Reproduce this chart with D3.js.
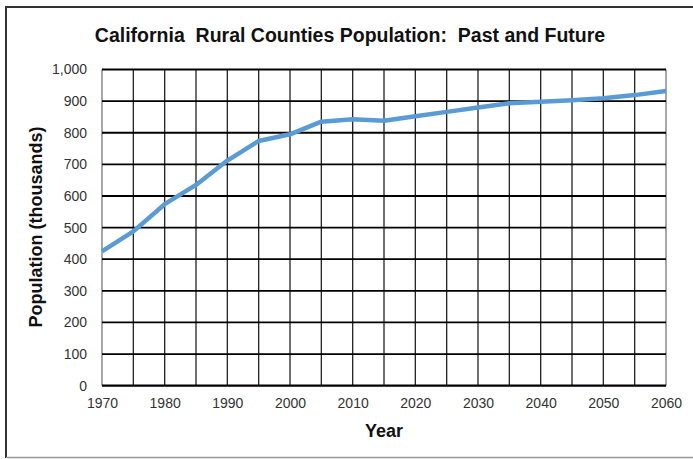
<!DOCTYPE html>
<html><head><meta charset="utf-8">
<script src="https://cdn.jsdelivr.net/npm/d3@7"></script>
<style>body{margin:0;background:#fff}svg{display:block}</style>
</head><body>
<script>
const years = [1970,1975,1980,1985,1990,1995,2000,2005,2010,2015,2020,2025,2030,2035,2040,2045,2050,2055,2060];
const population = [425,488,574,635,712,774,795,835,843,838,852,866,880,893,898,903,909,919,932];
const yTicks = [0,100,200,300,400,500,600,700,800,900,1000];
const xTicks = [1970,1980,1990,2000,2010,2020,2030,2040,2050,2060];
const gridYears = d3.range(1970, 2061, 5);

const W = 693, H = 459;
const svg = d3.select("body").append("svg").attr("width", W).attr("height", H);
const FONT = "Liberation Sans, Arial, sans-serif";

// frame
svg.append("line").attr("x1",6).attr("x2",W).attr("y1",7).attr("y2",7).attr("stroke","#333").attr("stroke-width",2);
svg.append("line").attr("x1",6).attr("x2",6).attr("y1",6).attr("y2",458).attr("stroke","#333").attr("stroke-width",2);
svg.append("line").attr("x1",6).attr("x2",W).attr("y1",457.5).attr("y2",457.5).attr("stroke","#999").attr("stroke-width",1.5);

const L = 102, R = 666, T = 69.5, B = 385.7;
const x = d3.scaleLinear().domain([1970,2060]).range([L,R]);
const y = d3.scaleLinear().domain([0,1000]).range([B,T]);

// grid
const g = svg.append("g");
g.selectAll("line.v").data(gridYears).join("line")
  .attr("x1", d=>x(d)).attr("x2", d=>x(d)).attr("y1", T).attr("y2", B)
  .attr("stroke", (d,i)=> (i===0||i===gridYears.length-1) ? "#777" : "#222").attr("stroke-width", 1.3);
g.selectAll("line.h").data(yTicks).join("line")
  .attr("x1", L).attr("x2", R).attr("y1", d=>y(d)).attr("y2", d=>y(d))
  .attr("stroke", "#000").attr("stroke-width", d=> d===0 ? 2.2 : 1.8);

// axes labels
const yAxis = d3.axisLeft(y).tickValues(yTicks).tickSize(0).tickPadding(15).tickFormat(d3.format(","));
const ya = svg.append("g").attr("transform",`translate(${L},0)`).call(yAxis);
ya.select(".domain").remove();
ya.selectAll("text").attr("font-family",FONT).attr("font-size",14).attr("fill","#333");

const xAxis = d3.axisBottom(x).tickValues(xTicks).tickSize(0).tickPadding(12).tickFormat(d3.format("d"));
const xa = svg.append("g").attr("transform",`translate(0,${B})`).call(xAxis);
xa.select(".domain").remove();
xa.selectAll("text").attr("font-family",FONT).attr("font-size",14).attr("fill","#333");

// line
const line = d3.line().x((d,i)=>x(years[i])).y(d=>y(d));
svg.append("path").datum(population).attr("d", line)
  .attr("fill","none").attr("stroke","#5b9bd5").attr("stroke-width",4.5).attr("stroke-linejoin","round");

// titles
svg.append("text").attr("x",350).attr("y",42).attr("text-anchor","middle")
  .attr("font-family",FONT).attr("font-weight","bold").attr("font-size",19.5)
  .attr("fill","#111").style("white-space","pre")
  .text("California  Rural Counties Population:  Past and Future");
svg.append("text").attr("x",384).attr("y",437).attr("text-anchor","middle")
  .attr("font-family",FONT).attr("font-weight","bold").attr("font-size",18)
  .attr("fill","#111").text("Year");
svg.append("text").attr("transform","translate(42,227) rotate(-90)").attr("text-anchor","middle")
  .attr("font-family",FONT).attr("font-weight","bold").attr("font-size",18)
  .attr("fill","#111").text("Population (thousands)");
</script>
</body></html>
